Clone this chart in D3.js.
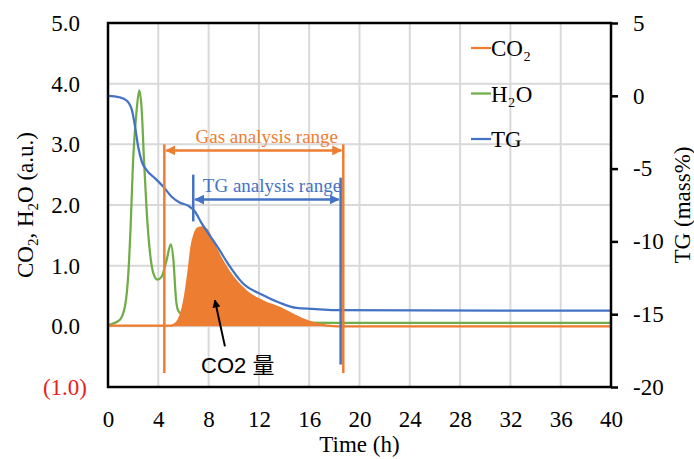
<!DOCTYPE html>
<html>
<head>
<meta charset="utf-8">
<script src="https://cdn.jsdelivr.net/npm/d3@7"></script>
<style>
  body { margin: 0; background: #fff; }
  svg text { font-family: "Liberation Serif", "Times New Roman", serif; }
</style>
</head>
<body>
<div id="d3-container"></div>
<script>
/**
 * CONSTANTS AND GLOBALS
 * */
const width = 694,
  height = 459,
  margin = { top: 23, bottom: 72, left: 108, right: 83 };

const orange = "#ED7D31", green = "#70AD47", blue = "#4472C4";

// tick values
const xTicks = [0, 4, 8, 12, 16, 20, 24, 28, 32, 36, 40];
const leftTicks = [-1, 0, 1, 2, 3, 4, 5];
const rightTicks = [-20, -15, -10, -5, 0, 5];

// H2O (a.u.)
const h2oTime = [0, 0.2, 0.95, 1.35, 1.62, 1.8, 2.0, 2.28, 2.49, 2.68, 2.86, 3.07, 3.34, 3.6, 3.92, 4.27, 4.67, 4.99, 5.2, 5.41, 5.6, 5.94, 7, 9, 12, 15, 18, 40];
const h2oValue = [0.01, 0.03, 0.11, 0.33, 0.88, 1.65, 2.75, 3.57, 3.89, 3.57, 2.75, 1.92, 1.21, 0.88, 0.77, 0.82, 1.1, 1.35, 1.1, 0.44, 0.25, 0.19, 0.16, 0.12, 0.08, 0.06, 0.055, 0.055];

const co2Time = [0, 4.93, 5.17, 5.5, 5.73, 6.12, 6.39, 6.65, 6.92, 7.18, 7.45, 7.85, 8.37, 9.17, 9.96, 11.03, 12.35, 13.68, 14.74, 15.53, 16.6, 18.2, 40];
const co2Value = [0.01, 0.01, 0.02, 0.07, 0.16, 0.49, 0.88, 1.32, 1.54, 1.62, 1.63, 1.59, 1.37, 1.05, 0.8, 0.57, 0.41, 0.3, 0.19, 0.11, 0.04, 0.0, 0.0];

// TG (mass%)
const tgTime = [0, 0.9, 1.5, 1.9, 2.15, 2.4, 2.68, 3.07, 3.74, 4.4, 5.06, 5.73, 6.39, 6.92, 7.45, 8.1, 8.8, 9.5, 10.7, 12.3, 13.7, 15.0, 16.3, 18.0, 40];
const tgValue = [0, -0.1, -0.34, -0.98, -2.1, -3.5, -4.5, -5.1, -5.67, -6.24, -6.93, -7.34, -7.55, -7.96, -8.76, -9.6, -10.5, -11.48, -12.86, -13.68, -14.23, -14.57, -14.64, -14.72, -14.76];

// analysis ranges (hours)
const gasRange = [4.48, 18.71];
const tgRange = [6.78, 18.5];

const legendItems = [
  { label: "CO₂", color: orange },
  { label: "H₂O", color: green },
  { label: "TG", color: blue }
];

/**
 * SCALES
 * */
const x = d3.scaleLinear([0, 40], [margin.left, width - margin.right]);
const yL = d3.scaleLinear([-1, 5], [height - margin.bottom, margin.top]);
const yR = d3.scaleLinear([-20, 5], [height - margin.bottom, margin.top]);

const svg = d3.select("#d3-container")
  .append("svg")
  .attr("width", width)
  .attr("height", height);

const defs = svg.append("defs");
[["arrOrange", orange], ["arrBlue", blue], ["arrBlack", "#000"]].forEach(([id, c]) => {
  defs.append("marker")
    .attr("id", id)
    .attr("viewBox", "0 0 10 10")
    .attr("refX", 9).attr("refY", 5)
    .attr("markerWidth", 4).attr("markerHeight", 4)
    .attr("orient", "auto-start-reverse")
    .append("path")
    .attr("d", "M0,0 L10,5 L0,10 Z")
    .attr("fill", c);
});

// gridlines
svg.append("g")
  .selectAll("line")
  .data(xTicks.slice(1, -1))
  .join("line")
  .attr("x1", d => x(d)).attr("x2", d => x(d))
  .attr("y1", yL(5)).attr("y2", yL(-1))
  .attr("stroke", "#d9d9d9").attr("stroke-width", 2);

svg.append("g")
  .selectAll("line")
  .data(leftTicks.slice(1, -1))
  .join("line")
  .attr("x1", x(0)).attr("x2", x(40))
  .attr("y1", d => yL(d)).attr("y2", d => yL(d))
  .attr("stroke", "#d9d9d9").attr("stroke-width", 2);

// series
const h2o = h2oTime.map((t, i) => [t, h2oValue[i]]);
const co2 = co2Time.map((t, i) => [t, co2Value[i]]);
const tg = tgTime.map((t, i) => [t, tgValue[i]]);

const lineL = d3.line().x(d => x(d[0])).y(d => yL(d[1])).curve(d3.curveMonotoneX);
const lineR = d3.line().x(d => x(d[0])).y(d => yR(d[1])).curve(d3.curveMonotoneX);
const areaL = d3.area().x(d => x(d[0])).y0(yL(0)).y1(d => yL(d[1])).curve(d3.curveMonotoneX);

svg.append("path").datum(h2o)
  .attr("d", lineL).attr("fill", "none")
  .attr("stroke", green).attr("stroke-width", 2.25);

svg.append("path").datum(co2)
  .attr("d", areaL).attr("fill", orange);

svg.append("path").datum(co2)
  .attr("d", lineL).attr("fill", "none")
  .attr("stroke", orange).attr("stroke-width", 2.25);

svg.append("path").datum(tg)
  .attr("d", lineR).attr("fill", "none")
  .attr("stroke", blue).attr("stroke-width", 2.25);

// range annotations
const ann = svg.append("g");
ann.selectAll("line.gas")
  .data(gasRange)
  .join("line")
  .attr("class", "gas")
  .attr("x1", d => x(d)).attr("x2", d => x(d))
  .attr("y1", yL(3.0)).attr("y2", yL(-0.77))
  .attr("stroke", orange).attr("stroke-width", 2.5);

ann.append("line")
  .attr("x1", x(gasRange[0]) + 2).attr("x2", x(gasRange[1]) - 2)
  .attr("y1", yL(2.9)).attr("y2", yL(2.9))
  .attr("stroke", orange).attr("stroke-width", 2.5)
  .attr("marker-start", "url(#arrOrange)")
  .attr("marker-end", "url(#arrOrange)");

ann.append("text")
  .attr("x", (x(gasRange[0]) + x(gasRange[1])) / 2 + 13)
  .attr("y", yL(3.03))
  .attr("text-anchor", "middle")
  .attr("fill", orange)
  .style("font-size", "19px")
  .text("Gas analysis range");

ann.append("line")
  .attr("x1", x(tgRange[0])).attr("x2", x(tgRange[0]))
  .attr("y1", yL(2.5)).attr("y2", yL(1.73))
  .attr("stroke", blue).attr("stroke-width", 2.5);

ann.append("line")
  .attr("x1", x(tgRange[1])).attr("x2", x(tgRange[1]))
  .attr("y1", yL(2.45)).attr("y2", yL(-0.63))
  .attr("stroke", blue).attr("stroke-width", 2.5);

ann.append("line")
  .attr("x1", x(tgRange[0]) + 2).attr("x2", x(tgRange[1]) - 2)
  .attr("y1", yL(2.09)).attr("y2", yL(2.09))
  .attr("stroke", blue).attr("stroke-width", 2.5)
  .attr("marker-start", "url(#arrBlue)")
  .attr("marker-end", "url(#arrBlue)");

ann.append("text")
  .attr("x", (x(tgRange[0]) + x(tgRange[1])) / 2 + 5)
  .attr("y", yL(2.22))
  .attr("text-anchor", "middle")
  .attr("fill", blue)
  .style("font-size", "19px")
  .text("TG analysis range");

// CO2 amount label
ann.append("line")
  .attr("x1", x(9.3)).attr("y1", yL(-0.33))
  .attr("x2", x(8.5)).attr("y2", yL(0.43))
  .attr("stroke", "#000").attr("stroke-width", 2)
  .attr("marker-end", "url(#arrBlack)");

ann.append("text")
  .attr("x", x(7.4))
  .attr("y", yL(-0.77))
  .attr("fill", "#000")
  .style("font-family", "'Liberation Sans', Arial, 'Noto Sans CJK JP', sans-serif")
  .style("font-size", "22px")
  .text("CO2 量");

// plot border
svg.append("rect")
  .attr("x", x(0)).attr("y", yL(5))
  .attr("width", x(40) - x(0)).attr("height", yL(-1) - yL(5))
  .attr("fill", "none").attr("stroke", "#000").attr("stroke-width", 2.5);

// axes
const fontSize = "23px";

const xAxis = svg.append("g")
  .attr("transform", `translate(0,${yL(-1)})`)
  .call(d3.axisBottom(x).tickValues(xTicks).tickSize(0).tickFormat(d => d));
xAxis.select(".domain").remove();
xAxis.selectAll("text")
  .attr("y", 40).attr("dy", 0)
  .attr("fill", "#000")
  .style("font-size", fontSize).style("font-family", "'Liberation Serif', serif");

const leftAxis = svg.append("g")
  .attr("transform", `translate(${x(0)},0)`)
  .call(d3.axisLeft(yL).tickValues(leftTicks).tickSize(0).tickPadding(28)
    .tickFormat(d => d < 0 ? `(${Math.abs(d).toFixed(1)})` : d.toFixed(1)));
leftAxis.select(".domain").remove();
leftAxis.selectAll("text")
  .attr("fill", d => d < 0 ? "#E8201A" : "#000")
  .attr("dx", d => d < 0 ? 7 : 0)
  .style("font-size", fontSize).style("font-family", "'Liberation Serif', serif");

const rightAxis = svg.append("g")
  .attr("transform", `translate(${x(40)},0)`)
  .call(d3.axisRight(yR).tickValues(rightTicks).tickSize(7).tickPadding(15).tickFormat(d => String(d)));
rightAxis.select(".domain").remove();
rightAxis.selectAll("line").attr("stroke", "#000").attr("stroke-width", 2.5);
rightAxis.selectAll("text")
  .attr("fill", "#000")
  .style("font-size", fontSize).style("font-family", "'Liberation Serif', serif");

// axis titles
svg.append("text")
  .attr("x", (x(0) + x(40)) / 2)
  .attr("y", 452)
  .attr("text-anchor", "middle")
  .style("font-size", fontSize)
  .text("Time (h)");

const yTitle = svg.append("text")
  .attr("transform", `translate(33,${(yL(5) + yL(-1)) / 2}) rotate(-90)`)
  .attr("text-anchor", "middle")
  .style("font-size", fontSize);
yTitle.append("tspan").text("CO");
yTitle.append("tspan").attr("dy", 5).style("font-size", "15px").text("2");
yTitle.append("tspan").attr("dy", -5).text(", H");
yTitle.append("tspan").attr("dy", 5).style("font-size", "15px").text("2");
yTitle.append("tspan").attr("dy", -5).text("O (a.u.)");

svg.append("text")
  .attr("transform", `translate(690,${(yR(5) + yR(-20)) / 2}) rotate(-90)`)
  .attr("text-anchor", "middle")
  .style("font-size", fontSize)
  .text("TG (mass%)");

// legend
const legend = svg.append("g")
  .selectAll("g")
  .data(legendItems)
  .join("g")
  .attr("transform", (d, i) => `translate(471,${48 + i * 45.5})`);
legend.append("line")
  .attr("x1", 0).attr("x2", 20)
  .attr("stroke", d => d.color).attr("stroke-width", 2.25);
legend.append("text")
  .attr("x", 20).attr("y", 8)
  .style("font-size", fontSize)
  .text(d => d.label);
</script>
</body>
</html>
